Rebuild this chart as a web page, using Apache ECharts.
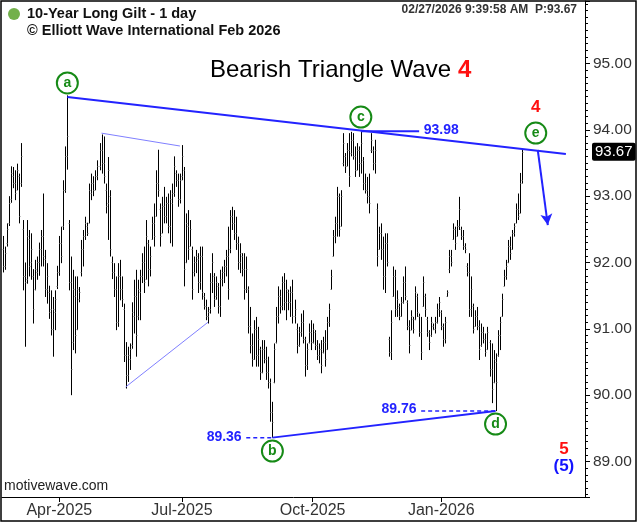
<!DOCTYPE html>
<html><head><meta charset="utf-8">
<script src="https://cdn.jsdelivr.net/npm/echarts@6/dist/echarts.min.js"></script>
<style>html,body{margin:0;padding:0;background:#fff}#chart{width:638px;height:522px}</style>
</head><body><div id="chart"></div>
<script>
// ---------- categories (UK trading days) ----------
const firstTradingDay = '2025-02-20';
const ukHolidays = ['2025-04-18','2025-04-21','2025-05-05','2025-05-26','2025-08-25','2025-12-25','2025-12-26','2026-01-01','2026-04-03','2026-04-06'];
const totalSlots = 290;
const monthNames = ['Jan','Feb','Mar','Apr','May','Jun','Jul','Aug','Sep','Oct','Nov','Dec'];
const xTickLabels = ['Apr-2025','Jul-2025','Oct-2025','Jan-2026'];
const yTickLabels = ['89.00','90.00','91.00','92.00','93.00','94.00','95.00'];

// ---------- daily bars [open, high, low, close] ----------
const feb2025 = [
[92.20,92.40,91.85,91.95],[91.95,92.24,91.89,92.15],[92.30,92.59,92.24,92.50],[92.60,93.00,92.55,92.90],
[92.95,93.45,92.90,93.35],[93.30,93.44,93.12,93.20],[93.20,93.39,92.94,93.05]];
const mar2025 = [
[93.10,93.49,93.09,93.40],[93.30,93.34,92.59,92.70],[93.20,93.80,93.14,93.60],[92.50,92.64,91.58,91.80],
[91.80,92.00,90.73,91.70],[91.75,92.64,91.68,92.40],[92.35,92.49,91.79,91.95],[92.00,92.44,91.74,92.20],
[91.80,91.90,91.08,91.30],[91.60,92.04,91.58,91.90],[91.85,92.09,91.74,92.00],[92.00,92.30,91.80,92.20],
[92.20,92.49,91.94,92.40],[92.40,93.04,91.94,92.10],[92.05,92.19,91.48,91.60],[91.60,91.99,91.38,91.80],
[91.55,91.65,91.15,91.25],[91.30,91.58,90.90,91.00],[91.00,91.48,90.58,91.30],[91.25,91.58,90.98,91.45],
[91.65,91.95,91.60,91.85]];
const apr2025 = [
[91.85,92.40,91.80,92.30],[92.30,92.54,91.99,92.10],[92.55,93.24,92.49,93.10],[93.10,93.75,93.05,93.60],
[93.60,94.52,93.40,93.90],[92.60,92.64,91.58,91.70],[91.70,92.09,90.00,90.40],[90.80,91.89,90.68,91.60],
[91.50,91.79,90.63,90.90],[91.00,91.79,90.98,91.60],[91.45,91.63,91.40,91.55],[91.85,92.34,91.79,92.20],
[92.20,92.49,91.94,92.40],[92.40,92.69,92.34,92.60],[92.55,92.60,92.40,92.45],[92.60,93.19,92.59,93.10],
[93.05,93.34,92.94,93.20],[93.20,93.30,93.00,93.10],[93.10,93.39,93.09,93.30],[93.30,93.54,93.24,93.45]];
const may2025 = [
[93.45,93.80,93.39,93.70],[93.70,93.93,93.34,93.50],[93.50,93.90,93.19,93.30],[93.10,93.19,92.74,92.85],
[92.90,93.59,92.34,93.40],[93.00,93.09,92.09,92.20],[92.00,92.09,91.75,91.85],[91.85,91.99,91.48,91.60],
[91.60,91.79,90.98,91.10],[91.10,91.99,91.03,91.80],[91.80,92.04,91.43,91.60],[91.60,91.79,91.33,91.45],
[91.30,91.38,90.50,90.60],[90.60,90.80,90.10,90.30],[90.30,90.73,90.20,90.60],[90.55,90.78,90.38,90.70],
[90.75,91.40,90.70,91.25],[91.20,91.74,90.93,91.50],[91.50,91.89,90.58,90.90],[91.20,91.74,91.13,91.60]];
const jun2025 = [
[91.55,91.89,91.13,91.80],[91.80,92.14,91.69,92.00],[92.00,92.24,91.54,91.70],[91.75,92.64,91.74,92.40],
[92.30,92.34,91.64,91.90],[91.90,92.24,91.79,92.10],[92.35,92.69,92.34,92.60],[92.60,92.89,92.24,92.40],
[92.70,93.39,92.69,93.20],[93.20,93.70,92.99,93.10],[92.80,92.89,92.24,92.40],[92.45,92.99,92.44,92.85],
[92.85,93.14,92.59,92.70],[92.70,92.99,92.59,92.90],[92.90,93.04,92.44,92.55],[92.55,93.09,92.29,92.95],
[92.90,93.19,92.24,93.05],[93.05,93.60,92.99,93.45],[93.35,93.39,93.14,93.25],[93.25,93.34,92.84,92.95],
[92.95,93.34,92.89,93.25]];
const jul2025 = [
[93.30,93.77,93.24,93.60],[93.40,93.44,91.64,91.90],[92.00,92.74,91.99,92.60],[92.55,92.79,92.04,92.20],
[92.25,92.64,92.24,92.50],[92.20,92.24,91.44,91.60],[91.85,92.09,91.79,92.00],[92.00,92.19,91.84,92.10],
[92.05,92.14,91.54,91.70],[91.70,92.24,91.59,92.10],[92.10,92.24,91.44,91.55],[91.50,91.54,91.29,91.35],
[91.35,91.44,91.13,91.20],[91.20,91.33,91.08,91.25],[91.30,91.84,91.23,91.70],[91.70,92.14,91.54,92.00],
[91.80,91.84,91.33,91.45],[91.50,91.79,91.44,91.70],[91.65,91.69,91.23,91.35],[91.35,91.89,91.18,91.75],
[91.75,91.94,91.64,91.85],[91.85,92.04,91.69,91.95],[91.95,92.19,91.79,92.10]];
const aug2025 = [
[92.10,92.54,91.44,91.60],[92.20,92.79,92.14,92.70],[92.70,92.84,92.49,92.60],[92.60,92.79,92.34,92.45],
[92.45,92.69,92.19,92.30],[92.30,92.39,91.89,92.00],[92.00,92.29,91.84,92.15],[92.10,92.14,91.79,91.90],
[91.90,92.14,91.44,91.60],[91.60,92.09,91.54,91.90],[91.60,91.64,90.93,91.05],[91.05,91.33,90.63,90.75],
[90.75,90.93,90.43,90.55],[90.55,91.13,90.53,91.00],[91.00,91.18,90.43,90.60],[90.60,91.03,90.43,90.85],
[90.70,90.73,90.23,90.35],[90.35,90.83,90.33,90.70],[90.70,90.83,90.48,90.55],[90.55,90.73,90.23,90.35]];
const sep2025 = [
[90.35,90.58,90.10,90.20],[90.20,90.25,89.60,89.75],[89.75,89.90,89.36,89.60],[90.20,90.78,90.18,90.70],
[90.80,91.33,90.78,91.20],[91.20,91.64,91.08,91.50],[91.50,91.59,91.23,91.35],[91.35,91.79,91.28,91.70],
[91.70,91.84,91.28,91.40],[91.40,91.74,91.13,91.60],[91.55,91.59,91.28,91.40],[91.40,91.64,91.18,91.55],
[91.55,91.74,91.08,91.20],[91.20,91.44,91.08,91.30],[91.00,91.08,90.63,90.75],[90.75,91.03,90.73,90.95],
[90.95,91.23,90.88,91.10],[91.10,91.28,90.78,90.85],[90.85,90.88,90.28,90.45],[90.45,90.78,90.38,90.70],
[90.80,91.08,90.78,90.95],[90.95,91.13,90.68,90.80]];
const oct2025 = [
[90.80,91.08,90.78,91.00],[90.95,90.98,90.68,90.75],[90.75,90.83,90.53,90.60],[90.60,90.78,90.48,90.70],
[90.70,90.83,90.33,90.45],[90.65,90.88,90.63,90.80],[90.80,90.98,90.43,90.55],[90.70,91.18,90.68,91.10],
[91.10,91.38,91.03,91.30],[91.60,91.89,91.59,91.80],[92.10,92.49,92.09,92.40],[92.40,92.69,92.29,92.60],
[92.60,93.14,92.39,93.00],[93.00,93.04,92.39,92.50],[92.55,93.09,92.54,93.00],[93.50,93.95,93.45,93.80],
[93.60,93.65,93.35,93.45],[93.45,93.80,93.45,93.70],[93.70,93.95,93.14,93.30],[93.65,93.97,93.60,93.85],
[93.85,93.95,93.55,93.60],[93.60,93.75,93.29,93.40],[93.40,93.80,93.39,93.70]];
const nov2025 = [
[93.70,93.75,93.29,93.50],[93.50,93.98,93.34,93.80],[93.55,93.59,93.09,93.20],[93.20,93.34,93.04,93.10],
[93.10,93.29,92.89,93.00],[93.00,93.34,92.74,92.90],[93.70,93.95,93.65,93.85],[93.70,93.75,93.39,93.50],
[93.50,93.85,93.34,93.70],[92.80,92.89,91.94,92.10],[92.20,92.54,92.19,92.45],[92.45,92.59,92.04,92.20],
[92.20,92.39,91.59,91.80],[91.80,92.44,91.54,92.30],[92.30,92.44,91.94,92.00],[90.85,90.88,90.58,90.65],
[90.65,91.28,90.53,91.10],[91.50,91.94,91.48,91.80],[91.80,91.89,91.18,91.30],[91.30,91.58,91.18,91.45]];
const dec2025 = [
[91.35,91.38,91.13,91.20],[91.20,91.48,91.18,91.40],[91.40,91.79,91.38,91.70],[91.70,91.94,91.43,91.50],
[91.40,91.43,90.98,91.05],[91.05,91.13,90.63,90.75],[90.98,91.28,90.98,91.20],[91.15,91.18,90.93,91.00],
[91.15,91.64,91.13,91.55],[91.50,91.53,91.18,91.25],[91.20,91.23,90.88,90.95],[90.95,91.18,90.53,90.65],
[91.35,91.79,91.33,91.70],[91.50,91.53,91.18,91.30],[91.15,91.18,90.88,90.95],[90.95,90.98,90.68,90.80],
[90.90,91.18,90.88,91.10],[91.05,91.08,90.98,91.00],[91.00,91.18,90.93,91.10],[91.10,91.38,91.08,91.30],
[91.30,91.48,91.18,91.40]];
const jan2026 = [
[91.25,91.28,90.98,91.05],[91.05,91.08,90.73,90.85],[90.85,91.18,90.78,91.10],[91.50,91.58,91.48,91.55],
[91.90,92.19,91.84,92.10],[92.10,92.19,91.94,92.00],[92.35,92.59,92.34,92.50],[92.50,92.54,92.19,92.30],
[92.40,92.64,92.39,92.55],[92.55,92.99,92.49,92.80],[92.50,92.54,92.34,92.40],[92.40,92.49,92.19,92.25],
[92.25,92.29,92.14,92.20],[91.95,91.99,91.79,91.85],[91.85,92.14,91.18,91.30],[91.30,91.79,91.18,91.60],
[91.35,91.38,90.93,91.00],[91.05,91.28,91.03,91.20],[91.20,91.33,90.98,91.05],[91.05,91.13,90.53,90.70],
[90.75,91.08,90.73,90.95]];
const feb2026 = [
[90.95,91.03,90.78,90.85],[90.85,90.93,90.58,90.65],[90.70,91.03,90.68,90.95],[90.80,90.83,90.28,90.40],
[90.40,90.78,89.88,90.10],[90.20,90.68,90.18,90.55],[90.50,90.63,89.76,90.20],[90.60,90.98,90.58,90.90],
[90.90,91.18,90.68,91.10],[91.20,91.53,91.18,91.45],[91.65,91.89,91.64,91.80],[91.80,92.04,91.74,91.95],
[92.00,92.34,91.99,92.25],[92.25,92.39,92.04,92.15],[92.20,92.49,92.19,92.45],[92.45,92.59,92.39,92.55],
[92.60,92.89,92.59,92.80],[92.80,93.04,92.64,92.70],[92.75,93.35,92.74,93.20],[93.25,93.70,93.19,93.67]];
const lastPrice = 93.67;

// ---------- annotations in data units [barIndex, price] ----------
const upperTrend = [[32, 94.495], [280, 93.635]];
const lowerTrend = [[134, 89.36], [245, 89.76]];
const thinUpper = [[49, 93.95], [88, 93.756]];
const thinLower = [[61, 90.123], [102, 91.10]];
const levelC = [[178, 93.98], [207, 93.98]];
const levelB = [[121, 89.36], [134, 89.36]];
const levelD = [[208, 89.76], [245, 89.76]];
const arrowPath = [[266, 93.696], [271, 92.565]];
const waveLabels = [['a', 32, 94.706], ['b', 134, 89.158], ['c', 178, 94.193], ['d', 245, 89.565], ['e', 265, 93.952]];
const priceTags = [['89.36', 110, 89.37], ['89.76', 197, 89.79], ['93.98', 218, 93.995]];
const waveNumbers = [['4', 265, 94.344, '#ff1010'], ['5', 279, 89.188, '#ff1010'], ['(5)', 279, 88.93, '#1414ff']];

// ---------- build ----------
const bars = [].concat(feb2025, mar2025, apr2025, may2025, jun2025, jul2025, aug2025, sep2025, oct2025, nov2025, dec2025, jan2026, feb2026);
const ohlcData = bars.map((b, i) => [i, b[0], b[1], b[2], b[3]]);

const dates = [];
(function () {
  const d = new Date(firstTradingDay + 'T00:00:00Z');
  while (dates.length < totalSlots) {
    const wd = d.getUTCDay();
    const iso = d.toISOString().slice(0, 10);
    if (wd !== 0 && wd !== 6 && ukHolidays.indexOf(iso) < 0) dates.push(iso);
    d.setUTCDate(d.getUTCDate() + 1);
  }
})();
function fmtMonth(v) { return monthNames[+v.slice(5, 7) - 1] + '-' + v.slice(0, 4); }
const labelIdx = new Set();
dates.forEach((s, i) => {
  if (i > 0 && fmtMonth(s) !== fmtMonth(dates[i - 1]) && xTickLabels.indexOf(fmtMonth(s)) >= 0) labelIdx.add(i);
});

const FONT = '"Liberation Sans", Arial, sans-serif';
const BLUE = '#2323ff';
const GREEN = '#168a16';

function renderOHLC(params, api) {
  const x = api.value(0);
  const o = api.coord([x, api.value(1)]);
  const h = api.coord([x, api.value(2)]);
  const l = api.coord([x, api.value(3)]);
  const c = api.coord([x, api.value(4)]);
  const px = Math.round(h[0]) + 0.5;
  return {
    type: 'group',
    children: [
      { type: 'line', shape: { x1: px, y1: h[1], x2: px, y2: l[1] }, style: { stroke: '#000', lineWidth: 1 } },
      { type: 'line', shape: { x1: px - 1, y1: Math.round(o[1]) + 0.5, x2: px, y2: Math.round(o[1]) + 0.5 }, style: { stroke: '#888', lineWidth: 1 } },
      { type: 'line', shape: { x1: px, y1: Math.round(c[1]) + 0.5, x2: px + 1, y2: Math.round(c[1]) + 0.5 }, style: { stroke: '#888', lineWidth: 1 } }
    ]
  };
}

function plainLine(name, data, color, width, type) {
  return {
    name, type: 'line', data, showSymbol: false, symbol: 'none', silent: true,
    lineStyle: { color, width, type: type || 'solid' }, z: 5
  };
}

const markPoints = [];
waveLabels.forEach(w => markPoints.push({
  coord: [w[1], w[2]], symbol: 'circle', symbolSize: 21,
  itemStyle: { color: '#fff', borderColor: GREEN, borderWidth: 2 },
  label: { show: true, position: 'inside', formatter: w[0], color: GREEN, fontWeight: 'bold', fontSize: 14, fontFamily: FONT }
}));
priceTags.forEach(t => markPoints.push({
  coord: [t[1], t[2]], symbol: 'rect', symbolSize: 1, itemStyle: { color: 'transparent' },
  label: { show: true, position: 'inside', formatter: t[0], color: BLUE, fontWeight: 'bold', fontSize: 14, fontFamily: FONT }
}));
waveNumbers.forEach(t => markPoints.push({
  coord: [t[1], t[2]], symbol: 'rect', symbolSize: 1, itemStyle: { color: 'transparent' },
  label: { show: true, position: 'inside', formatter: t[0], color: t[3], fontWeight: 'bold', fontSize: 17, fontFamily: FONT }
}));

const upperSeries = plainLine('upper', upperTrend, BLUE, 2);
upperSeries.markPoint = { silent: true, data: markPoints, z: 10 };
upperSeries.markLine = {
  silent: true, symbol: ['none', 'arrow'], symbolSize: [9, 11],
  lineStyle: { color: BLUE, width: 2, type: 'solid' }, label: { show: false },
  data: [[{ coord: arrowPath[0] }, { coord: arrowPath[1] }]]
};

const chart = echarts.init(document.getElementById('chart'), null, { renderer: 'canvas' });
chart.setOption({
  animation: false,
  backgroundColor: '#fff',
  textStyle: { fontFamily: FONT },
  grid: { left: 2, right: 53, top: 1, bottom: 25, containLabel: false },
  xAxis: {
    type: 'category', data: dates, boundaryGap: true,
    axisLine: { show: true, lineStyle: { color: '#000', width: 1 } },
    axisTick: { show: true, alignWithLabel: true, length: 5, lineStyle: { color: '#000' }, interval: (i) => labelIdx.has(i) },
    axisLabel: {
      show: true, interval: (i) => labelIdx.has(i), margin: 6, color: '#333', fontSize: 16, fontFamily: FONT,
      formatter: (v) => fmtMonth(v)
    },
    splitLine: { show: false }
  },
  yAxis: {
    type: 'value', position: 'right', min: 88.465, max: 95.942, splitNumber: 7, scale: true,
    axisLine: { show: true, lineStyle: { color: '#000', width: 1 } },
    axisTick: { show: true, length: 5, lineStyle: { color: '#000' } },
    minorTick: { show: true, splitNumber: 10, length: 3, lineStyle: { color: '#000' } },
    axisLabel: {
      show: true, margin: 8, color: '#333', fontSize: 15.5, fontFamily: FONT, showMinLabel: false, showMaxLabel: false,
      formatter: (v) => { const s = v.toFixed(2); return yTickLabels.indexOf(s) >= 0 ? s : ''; }
    },
    splitLine: { show: false },
    axisPointer: {
      show: true, value: lastPrice, status: 'show', snap: false, type: 'line', triggerTooltip: false,
      lineStyle: { color: 'rgba(0,0,0,0)', width: 0 },
      label: { show: true, formatter: (p) => (+p.value).toFixed(2), backgroundColor: '#000', color: '#fff', fontSize: 15, fontFamily: FONT, padding: [2, 3, 1, 3], margin: 7, borderRadius: 2 }
    }
  },
  series: [
    { name: 'Gilt', type: 'custom', renderItem: renderOHLC, data: ohlcData, encode: { x: 0, y: [1, 2, 3, 4] }, clip: true, silent: true, z: 2 },
    upperSeries,
    plainLine('lower', lowerTrend, BLUE, 2),
    plainLine('thinUpper', thinUpper, '#8080ff', 1),
    plainLine('thinLower', thinLower, '#8080ff', 1),
    plainLine('levelC', levelC, BLUE, 2),
    plainLine('levelB', levelB, BLUE, 1.5, [4, 3]),
    plainLine('levelD', levelD, BLUE, 1.5, [4, 3])
  ],
  graphic: [
    { type: 'rect', shape: { x: 1, y: 1, width: 635, height: 520 }, style: { fill: 'none', stroke: '#000', lineWidth: 1.5 }, silent: true, z: 100 },
    { type: 'circle', shape: { cx: 14, cy: 14, r: 6 }, style: { fill: '#72b04a' }, silent: true },
    { type: 'text', x: 27, y: 14, style: { text: '10-Year Long Gilt - 1 day', font: 'bold 14.5px ' + FONT, fill: '#111', verticalAlign: 'middle' }, silent: true },
    { type: 'text', x: 27, y: 31, style: { text: '\u00a9 Elliott Wave International Feb 2026', font: 'bold 14.5px ' + FONT, fill: '#111', verticalAlign: 'middle' }, silent: true },
    { type: 'text', x: 577, y: 10, style: { text: '02/27/2026 9:39:58 AM  P:93.67', font: 'bold 12px ' + FONT, fill: '#333', align: 'right', verticalAlign: 'middle' }, silent: true },
    { type: 'text', x: 210, y: 70, style: { text: 'Bearish Triangle Wave', font: '24px ' + FONT, fill: '#000', verticalAlign: 'middle' }, silent: true },
    { type: 'text', x: 458, y: 70, style: { text: '4', font: 'bold 24px ' + FONT, fill: '#ff1010', verticalAlign: 'middle' }, silent: true },
    { type: 'text', x: 4, y: 486, style: { text: 'motivewave.com', font: '14px ' + FONT, fill: '#222', verticalAlign: 'middle' }, silent: true }
  ]
});
</script></body></html>
